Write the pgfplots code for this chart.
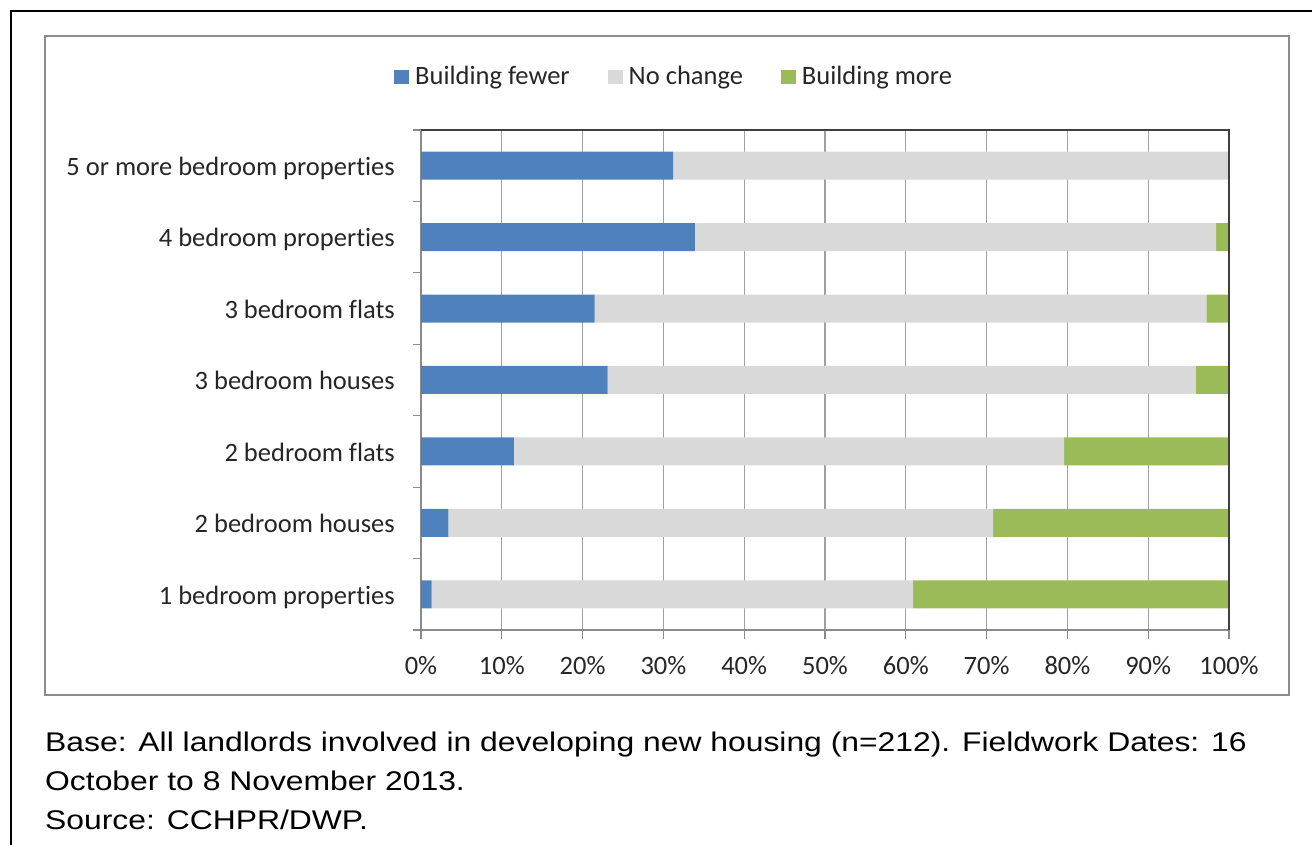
\documentclass[border=0pt]{standalone}
\usepackage{fontspec}
\setmainfont[Ligatures=NoCommon]{Carlito}
\newfontfamily\footfont[FakeStretch=1.18]{Liberation Sans}
\usepackage{pgfplots}
\pgfplotsset{compat=1.18}
\definecolor{cblue}{HTML}{4F81BD}
\definecolor{cgrey}{HTML}{D9D9D9}
\definecolor{cgreen}{HTML}{9BBB59}
\definecolor{framegray}{HTML}{8C8C8C}
\definecolor{gridgray}{HTML}{A0A0A0}
\definecolor{axisgray}{HTML}{8A8A8A}
\definecolor{axisdark}{HTML}{404040}
\begin{document}
\begin{tikzpicture}
\useasboundingbox (0pt,0pt) rectangle (1312pt,844pt);
\draw[line width=2.5pt, black] (11pt,-5pt) -- (11pt,833pt) -- (1320pt,833pt);
\draw[line width=2pt, framegray] (45pt,149pt) rectangle (1289pt,808pt);
\begin{axis}[
  at={(421pt,214pt)}, anchor=south west,
  scale only axis, width=808pt, height=500pt,
  font=\fontsize{26.5pt}{32pt}\selectfont,
  xbar stacked, bar width=28pt,
  xmin=0, xmax=100, ymin=-0.5, ymax=6.5,
  xtick={0,10,...,100},
  xticklabels={0\%,10\%,20\%,30\%,40\%,50\%,60\%,70\%,80\%,90\%,100\%},
  minor xtick={0,10,...,100},
  ytick={0,...,6},
  yticklabels={1 bedroom properties,2 bedroom houses,2 bedroom flats,3 bedroom houses,3 bedroom flats,4 bedroom properties,5 or more bedroom properties},
  minor ytick={-0.5,0.5,...,6.5},
  tick pos=left,
  tick align=outside,
  major tick length=0pt, minor tick length=8.5pt,
  xmajorgrids, major x grid style={color=gridgray, line width=1.2pt},
  axis line style={color=axisgray, line width=1.3pt},
  minor tick style={color=axisgray, line width=1.2pt},
  xticklabel style={anchor=base, inner sep=0pt, yshift=-44pt, text=black!85},
  yticklabel style={anchor=east, inner sep=0pt, xshift=-26pt, yshift=-6.5pt, text height=0.644em, text depth=0pt, text=black!85},
  legend columns=3,
  legend style={draw=none, fill=none, inner sep=0pt, at={(-0.0334,1.0914)}, anchor=south west,
    nodes={inner sep=0pt, anchor=base west, text height=0.644em, text depth=0pt, text=black!85},
    /tikz/every odd column/.append style={column sep=6pt},
    /tikz/every even column/.append style={column sep=38pt}},
  legend image code/.code={\fill[#1] (0pt,0pt) rectangle (15pt,14pt);},
]
\addplot[fill=cblue, draw=none] coordinates {(1.3,0) (3.4,1) (11.5,2) (23.1,3) (21.5,4) (33.9,5) (31.2,6)};
\addplot[fill=cgrey, draw=none] coordinates {(59.6,0) (67.4,1) (68.1,2) (72.8,3) (75.7,4) (64.5,5) (68.8,6)};
\addplot[fill=cgreen, draw=none] coordinates {(39.1,0) (29.2,1) (20.4,2) (4.1,3) (2.8,4) (1.6,5) (0,6)};
\legend{Building fewer,No change,Building more}
\end{axis}
\draw[line width=1.3pt, axisdark] (421pt,714pt) -- (1229pt,714pt) -- (1229pt,214pt);
\begin{scope}[every node/.style={anchor=base west, inner sep=0pt, font=\footfont\fontsize{27pt}{30pt}\selectfont}]
\node at (45pt,92.7pt) {Base: All landlords involved in developing new housing (n=212). Fieldwork Dates: 16};
\node at (45pt,54pt) {October to 8 November 2013.};
\node at (45pt,15pt) {Source: CCHPR/DWP.};
\end{scope}
\end{tikzpicture}
\end{document}
